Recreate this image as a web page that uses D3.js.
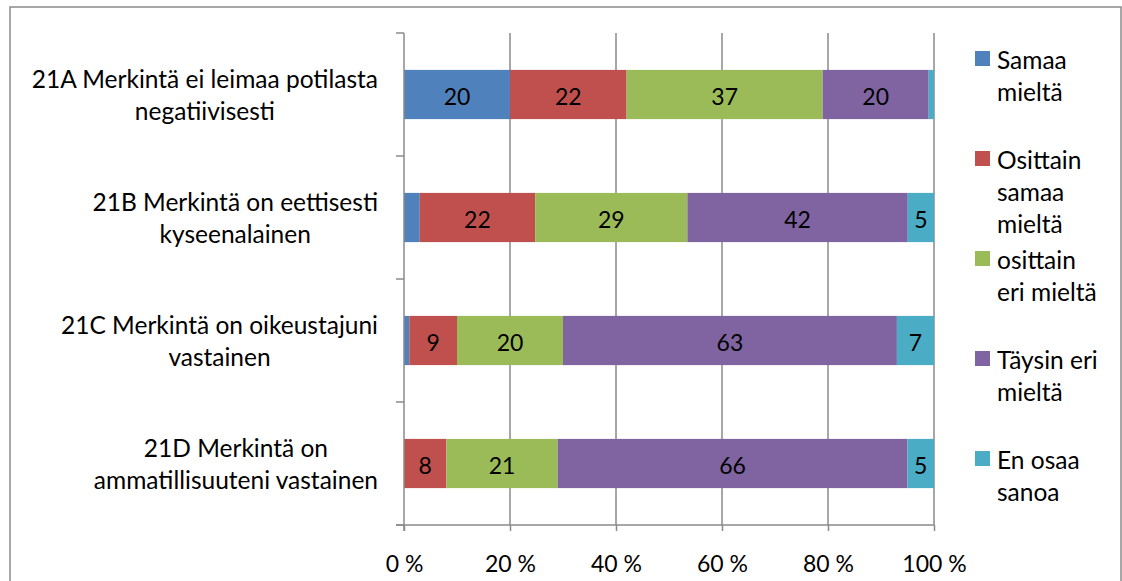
<!DOCTYPE html>
<html>
<head>
<meta charset="utf-8">
<script src="https://cdn.jsdelivr.net/npm/d3@7"></script>
<style>
  html, body { margin: 0; padding: 0; background: #fff; }
  svg { display: block; }
  text { font-family: Lato, "Open Sans", sans-serif; fill: #000; }
</style>
</head>
<body>
<svg id="chart" width="1122" height="581"></svg>
<script>
// ---- data ----
const categories = [
  ["21A Merkintä ei leimaa potilasta", "negatiivisesti"],
  ["21B Merkintä on eettisesti", "kyseenalainen"],
  ["21C Merkintä on oikeustajuni", "vastainen"],
  ["21D Merkintä on", "ammatillisuuteni vastainen"]
];
const seriesNames = [
  ["Samaa", "mieltä"],
  ["Osittain", "samaa", "mieltä"],
  ["osittain", "eri mieltä"],
  ["Täysin eri", "mieltä"],
  ["En osaa", "sanoa"]
];
const samaaMielta = [20, 3, 1, 0];
const osittainSamaa = [22, 22, 9, 8];
const osittainEri = [37, 29, 20, 21];
const taysinEri = [20, 42, 63, 66];
const enOsaa = [1, 5, 7, 5];
const seriesValues = [samaaMielta, osittainSamaa, osittainEri, taysinEri, enOsaa];
const colors = ["#4F81BD", "#C0504D", "#9BBB59", "#8064A2", "#4BACC6"];
const xTicks = [0, 0.2, 0.4, 0.6, 0.8, 1];
const xTickLabels = ["0 %", "20 %", "40 %", "60 %", "80 %", "100 %"];

// ---- layout ----
const svg = d3.select("#chart");
const pLeft = 404, pRight = 934, pTop = 33, pBottom = 525;
const gridColor = "#8a8a8a";
const wordSize = "24.5px", numSize = "23px";

// chart border
svg.append("rect").attr("x", 10).attr("y", 7).attr("width", 1111).attr("height", 600)
  .attr("fill", "none").attr("stroke", "#8a8a8a").attr("stroke-width", 1.5);

const x = d3.scaleLinear().domain([0, 1]).range([pLeft, pRight]);
const y = d3.scaleBand().domain(d3.range(categories.length)).range([pTop, pBottom])
  .paddingInner(0.6).paddingOuter(0.3);

// gridlines
svg.append("g").selectAll("line").data(xTicks.slice(1)).join("line")
  .attr("x1", d => x(d)).attr("x2", d => x(d))
  .attr("y1", pTop).attr("y2", pBottom)
  .attr("stroke", gridColor).attr("stroke-width", 1.5);

// stacked normalized data
const rows = categories.map((c, i) => {
  const vals = seriesValues.map(s => s[i]);
  const total = d3.sum(vals);
  let acc = 0;
  return vals.map((v, k) => {
    const seg = { cat: i, series: k, value: v, x0: acc / total, x1: (acc + v) / total };
    acc += v;
    return seg;
  });
});
const segs = rows.flat();

svg.append("g").selectAll("rect").data(segs.filter(d => d.value > 0)).join("rect")
  .attr("x", d => x(d.x0))
  .attr("width", d => x(d.x1) - x(d.x0))
  .attr("y", d => y(d.cat))
  .attr("height", y.bandwidth())
  .attr("fill", d => colors[d.series]);

// data labels
svg.append("g").selectAll("text").data(segs.filter(d => d.value >= 5)).join("text")
  .attr("x", d => (x(d.x0) + x(d.x1)) / 2)
  .attr("y", d => y(d.cat) + y.bandwidth() / 2 + 1)
  .attr("text-anchor", "middle").attr("dominant-baseline", "central")
  .style("font-size", numSize)
  .text(d => d.value);

// y axis line + ticks
const yAxisG = svg.append("g");
yAxisG.append("line").attr("x1", pLeft).attr("x2", pLeft).attr("y1", pTop).attr("y2", pBottom + 6)
  .attr("stroke", gridColor).attr("stroke-width", 1.5);
const yBounds = d3.range(categories.length + 1).map(i => pTop + i * (pBottom - pTop) / categories.length);
yAxisG.selectAll("line.t").data(yBounds).join("line").attr("class", "t")
  .attr("x1", pLeft - 8).attr("x2", pLeft).attr("y1", d => d).attr("y2", d => d)
  .attr("stroke", gridColor).attr("stroke-width", 1.5);

// x axis
const xAxis = d3.axisBottom(x).tickValues(xTicks).tickSize(6).tickFormat((d, i) => xTickLabels[i]);
const xg = svg.append("g").attr("transform", `translate(0,${pBottom})`).call(xAxis);
xg.select(".domain").remove();
xg.append("line").attr("x1", pLeft - 8).attr("x2", pRight).attr("y1", 0).attr("y2", 0)
  .attr("stroke", gridColor).attr("stroke-width", 1.5);
xg.selectAll(".tick line").attr("stroke", gridColor).attr("stroke-width", 1.5);
xg.selectAll(".tick text").attr("y", 38).attr("dy", "0")
  .attr("dominant-baseline", "central")
  .style("font-size", numSize).style("font-family", "Lato, 'Open Sans', sans-serif").attr("fill", "#000");

// category labels (centered block, right-aligned at 378)
const catG = svg.append("g");
categories.forEach((lines, i) => {
  const cy = y(i) + y.bandwidth() / 2;
  const t = catG.append("text").attr("text-anchor", "middle").style("font-size", wordSize);
  const lh = 32;
  lines.forEach((ln, j) => {
    t.append("tspan").attr("y", cy + (j - (lines.length - 1) / 2) * lh)
      .attr("dominant-baseline", "central").text(ln);
  });
  const w = d3.max(t.selectAll("tspan").nodes(), n => n.getComputedTextLength());
  t.selectAll("tspan").attr("x", 378 - w / 2);
});

// legend
const legG = svg.append("g");
seriesNames.forEach((lines, k) => {
  const ty = 51 + k * 100;
  legG.append("rect").attr("x", 975).attr("y", ty).attr("width", 15).attr("height", 15)
    .attr("fill", colors[k]);
  const t = legG.append("text").style("font-size", wordSize);
  lines.forEach((ln, j) => {
    t.append("tspan").attr("x", 997).attr("y", ty + 8 + j * 32)
      .attr("dominant-baseline", "central").text(ln);
  });
});
</script>
</body>
</html>
